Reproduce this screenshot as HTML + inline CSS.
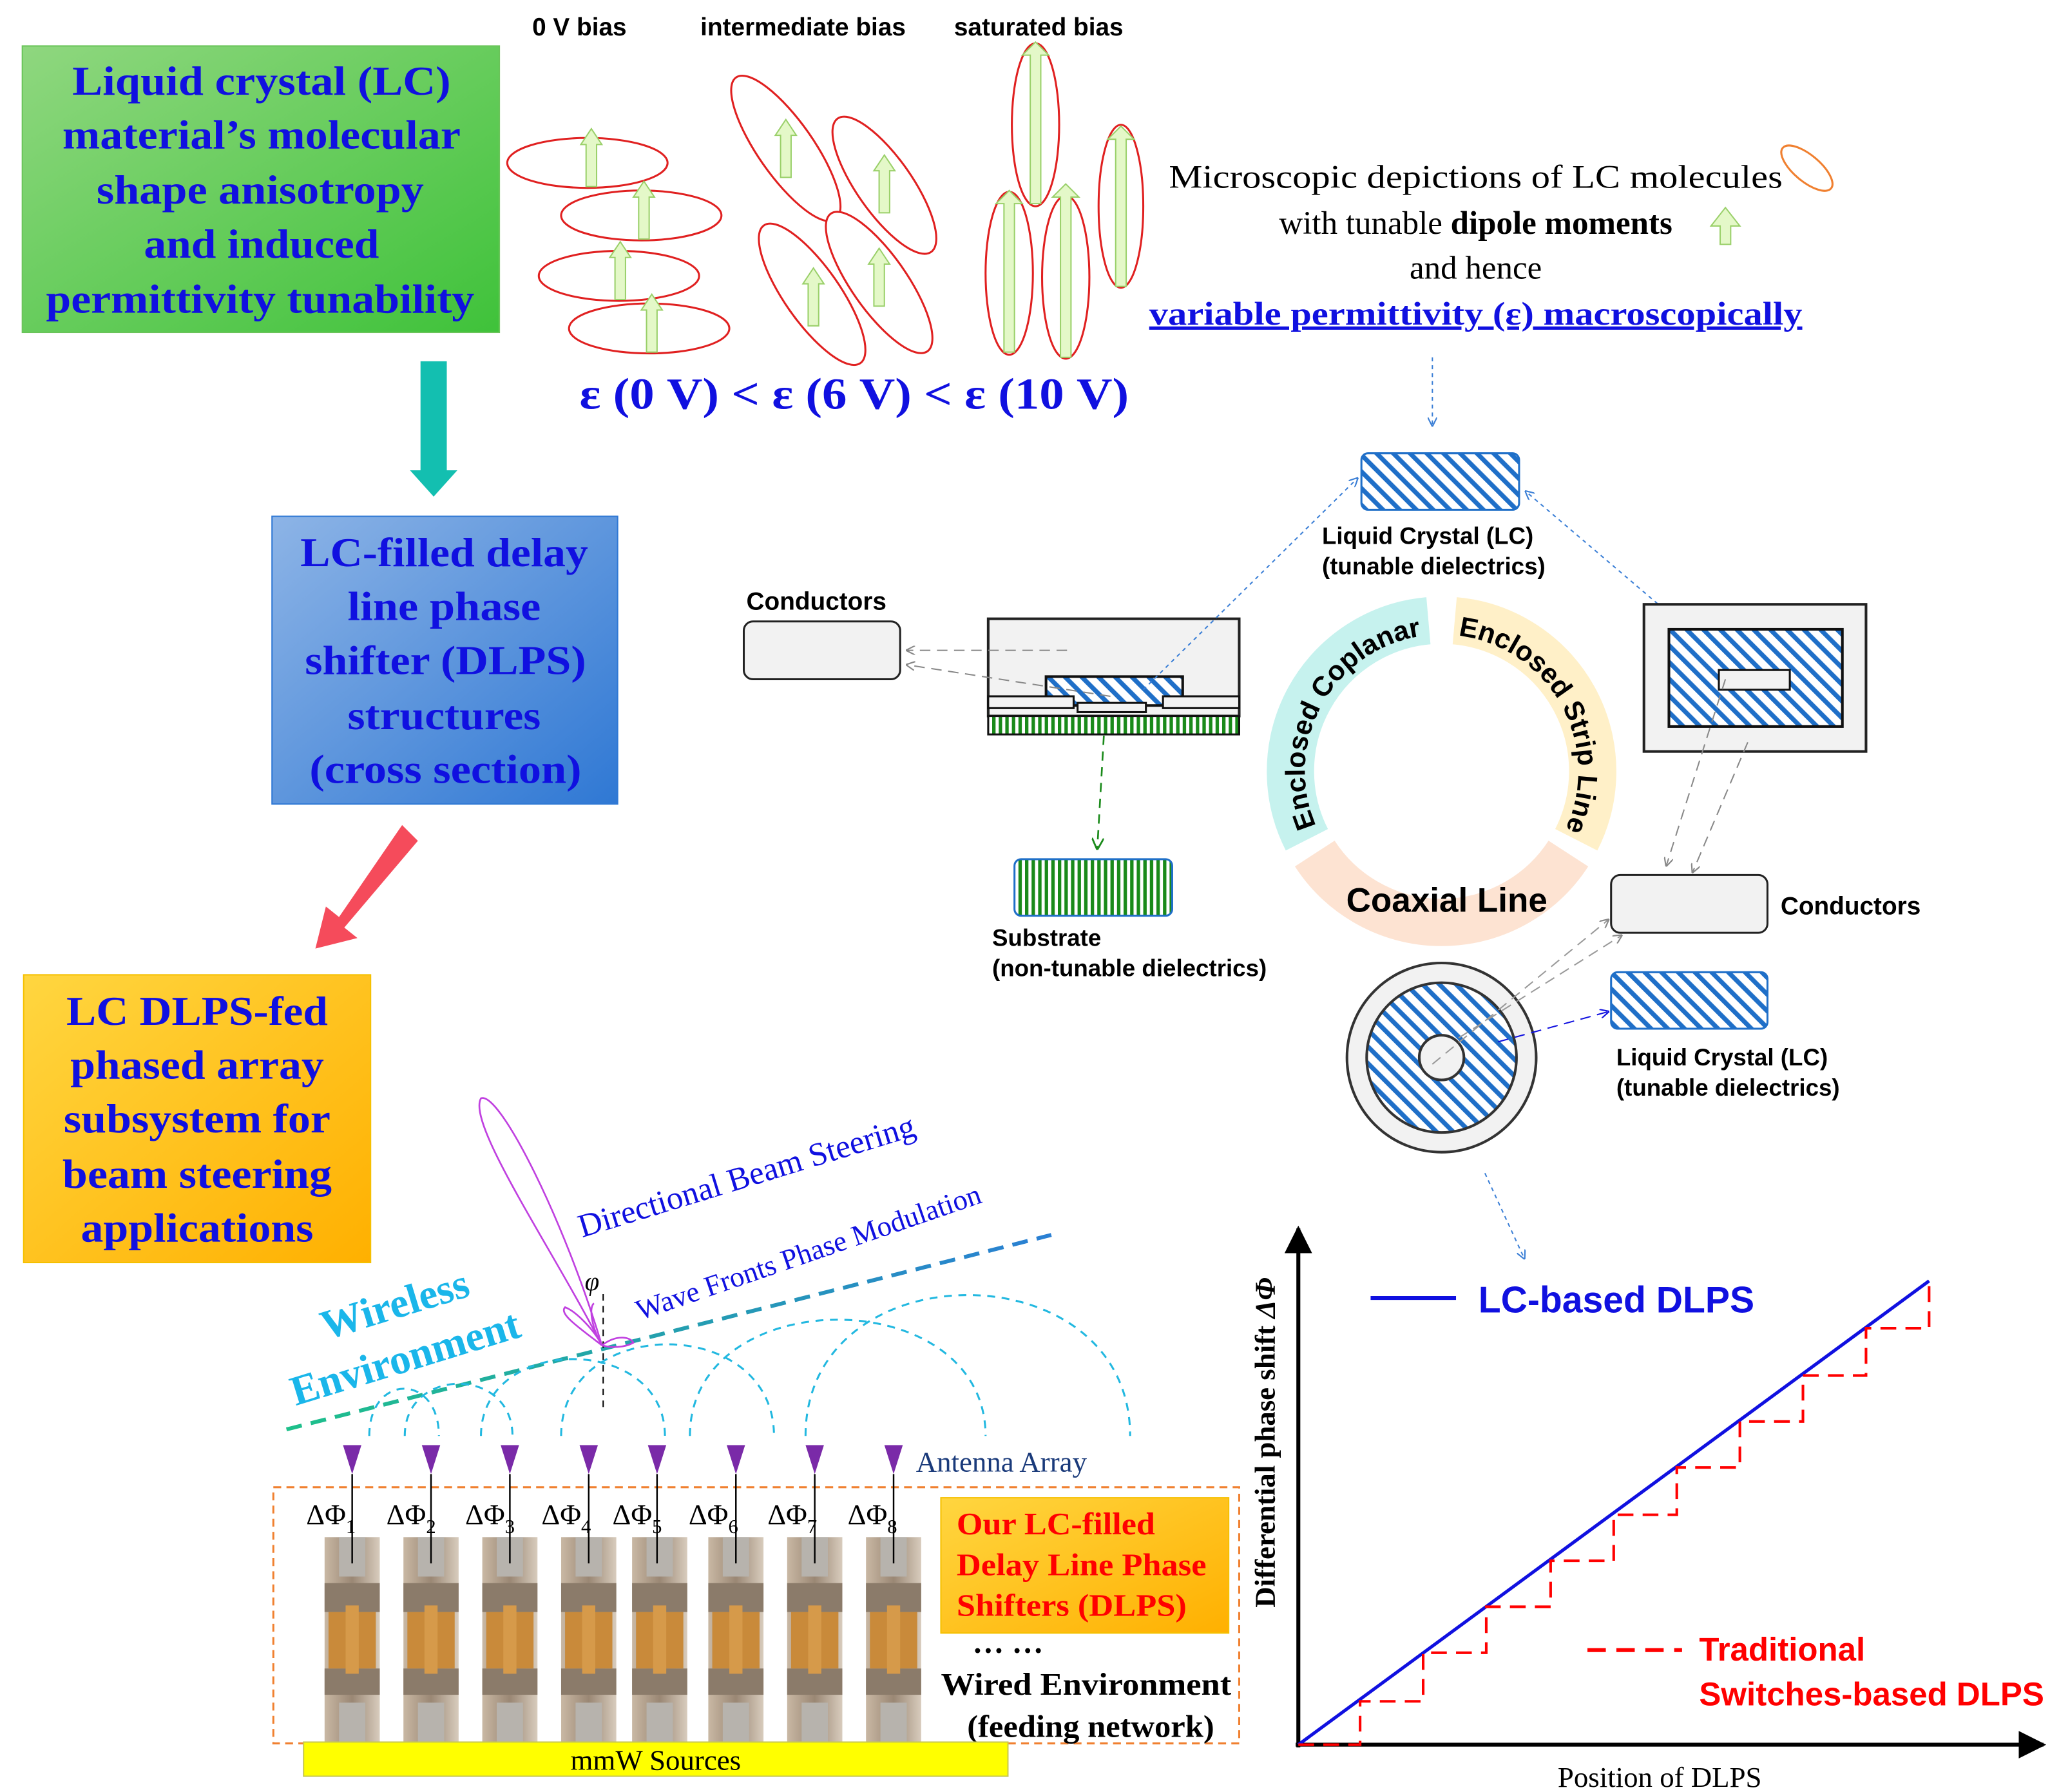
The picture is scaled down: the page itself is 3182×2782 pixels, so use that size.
<!DOCTYPE html>
<html><head><meta charset="utf-8"><style>
html,body{margin:0;padding:0;background:#fff}
svg{display:block}
.sb{font-family:"Liberation Serif",serif;font-weight:bold}
.s{font-family:"Liberation Serif",serif}
.a{font-family:"Liberation Sans",sans-serif;font-weight:bold}
</style></head><body>
<svg width="3182" height="2782" viewBox="0 0 1560 1364" preserveAspectRatio="none" xmlns="http://www.w3.org/2000/svg">
<defs>
<pattern id="h" patternUnits="userSpaceOnUse" width="9" height="9" patternTransform="rotate(-45)">
<rect width="9" height="9" fill="#fff"/><rect x="0" y="0" width="3.5" height="9" fill="#1f6fc8"/></pattern>
<pattern id="g" patternUnits="userSpaceOnUse" width="5" height="10"><rect width="5" height="10" fill="#fff"/><rect width="2.6" height="10" fill="#1a8a1a"/></pattern>
<linearGradient id="gg" x1="0" y1="0" x2="1" y2="1"><stop offset="0" stop-color="#8fd77f"/><stop offset="1" stop-color="#3fc23a"/></linearGradient>
<linearGradient id="bg" x1="0" y1="0" x2="1" y2="1"><stop offset="0" stop-color="#8db4e6"/><stop offset="1" stop-color="#2f78d4"/></linearGradient>
<linearGradient id="og" x1="0" y1="0" x2="1" y2="1"><stop offset="0" stop-color="#ffd640"/><stop offset="1" stop-color="#ffb000"/></linearGradient>
<linearGradient id="ph" x1="0" y1="0" x2="1" y2="0"><stop offset="0" stop-color="#c9b8a4"/><stop offset=".5" stop-color="#9a8774"/><stop offset="1" stop-color="#d8ccbd"/></linearGradient>
<linearGradient id="wl" x1="0" y1="0" x2="1" y2="0"><stop offset="0" stop-color="#1ec08a"/><stop offset="1" stop-color="#2a7fd4"/></linearGradient>
<marker id="ab" viewBox="0 0 10 10" refX="9" refY="5" markerWidth="7" markerHeight="7" orient="auto"><path d="M0,0L10,5L0,10" fill="none" stroke="#3b7fd6" stroke-width="1.5"/></marker>
<marker id="ag" viewBox="0 0 10 10" refX="9" refY="5" markerWidth="7" markerHeight="7" orient="auto"><path d="M0,0L10,5L0,10" fill="none" stroke="#888" stroke-width="1.5"/></marker>
<marker id="agr" viewBox="0 0 10 10" refX="9" refY="5" markerWidth="7" markerHeight="7" orient="auto"><path d="M0,0L10,5L0,10" fill="none" stroke="#1a8a1a" stroke-width="1.5"/></marker>
<marker id="abb" viewBox="0 0 10 10" refX="9" refY="5" markerWidth="7" markerHeight="7" orient="auto"><path d="M0,0L10,5L0,10" fill="none" stroke="#1010e0" stroke-width="1.5"/></marker>
<marker id="ak" viewBox="0 0 10 10" refX="9" refY="5" markerWidth="7" markerHeight="7" orient="auto"><path d="M0,0L10,5L0,10Z" fill="#000"/></marker>
<g id="ua"><path d="M-4,0V-32H-8L0,-44L8,-32H4V0Z" fill="#e4f8c8" stroke="#9ad06a" stroke-width="1"/></g>
<g id="ph1"><rect x="-21" y="0" width="42" height="156" fill="url(#ph)"/><rect x="-10" y="0" width="20" height="30" fill="#b7b3ad"/><rect x="-10" y="126" width="20" height="30" fill="#b7b3ad"/><rect x="-21" y="35" width="42" height="22" fill="#8b7b6a"/><rect x="-21" y="100" width="42" height="20" fill="#8b7b6a"/><rect x="-18" y="57" width="36" height="43" fill="#c98a3a"/><rect x="-5" y="52" width="10" height="52" fill="#d69a4a"/></g>
</defs>

<rect x="17" y="35" width="363" height="218" fill="url(#gg)" stroke="#6ac45a"/>
<g class="sb" fill="#1010e0" font-size="31" text-anchor="middle">
<text x="199" y="72" textLength="288" lengthAdjust="spacingAndGlyphs">Liquid crystal (LC)</text>
<text x="199" y="113" textLength="303" lengthAdjust="spacingAndGlyphs">material’s molecular</text>
<text x="198" y="155" textLength="249" lengthAdjust="spacingAndGlyphs">shape anisotropy</text>
<text x="199" y="196" textLength="179" lengthAdjust="spacingAndGlyphs">and induced</text>
<text x="198" y="238" textLength="326" lengthAdjust="spacingAndGlyphs">permittivity tunability</text>
</g>
<path d="M320,275H340V358H348L330,378L312,358H320Z" fill="#13bfb0"/>
<rect x="207" y="393" width="263" height="219" fill="url(#bg)" stroke="#2f78d4"/>
<g class="sb" fill="#1010e0" font-size="31" text-anchor="middle">
<text x="338" y="431" textLength="219" lengthAdjust="spacingAndGlyphs">LC-filled delay</text>
<text x="338" y="472" textLength="147" lengthAdjust="spacingAndGlyphs">line phase</text>
<text x="339" y="513" textLength="214" lengthAdjust="spacingAndGlyphs">shifter (DLPS)</text>
<text x="338" y="555" textLength="147" lengthAdjust="spacingAndGlyphs">structures</text>
<text x="339" y="596" textLength="207" lengthAdjust="spacingAndGlyphs">(cross section)</text>
</g>
<path d="M306,628L318,640L262,706L272,714L240,722L248,690L258,698Z" fill="#f54b5b"/>
<rect x="18" y="742" width="264" height="219" fill="url(#og)" stroke="#f5c000"/>
<g class="sb" fill="#1010e0" font-size="31" text-anchor="middle">
<text x="150" y="780" textLength="199" lengthAdjust="spacingAndGlyphs">LC DLPS-fed</text>
<text x="150" y="821" textLength="193" lengthAdjust="spacingAndGlyphs">phased array</text>
<text x="150" y="862" textLength="203" lengthAdjust="spacingAndGlyphs">subsystem for</text>
<text x="150" y="904" textLength="205" lengthAdjust="spacingAndGlyphs">beam steering</text>
<text x="150" y="945" textLength="177" lengthAdjust="spacingAndGlyphs">applications</text>
</g>

<g class="a" font-size="19" fill="#000">
<text x="405" y="27">0 V bias</text>
<text x="533" y="27">intermediate bias</text>
<text x="726" y="27">saturated bias</text>
</g>
<g fill="#fff" stroke="#e02020" stroke-width="1.5">
<ellipse cx="447" cy="124" rx="61" ry="19"/><ellipse cx="488" cy="164" rx="61" ry="19"/><ellipse cx="471" cy="210" rx="61" ry="19"/><ellipse cx="494" cy="250" rx="61" ry="19"/>
<ellipse cx="598" cy="113" rx="21" ry="66" transform="rotate(-35 598 113)"/>
<ellipse cx="673" cy="141" rx="21" ry="62" transform="rotate(-35 673 141)"/>
<ellipse cx="618" cy="224" rx="21" ry="64" transform="rotate(-35 618 224)"/>
<ellipse cx="669" cy="215" rx="21" ry="64" transform="rotate(-35 669 215)"/>
<ellipse cx="788" cy="95" rx="18" ry="62"/><ellipse cx="768" cy="208" rx="18" ry="62"/><ellipse cx="811" cy="211" rx="18" ry="62"/><ellipse cx="853" cy="157" rx="17" ry="62"/>
</g>
<use href="#ua" x="450" y="142"/><use href="#ua" x="490" y="182"/><use href="#ua" x="472" y="228"/><use href="#ua" x="496" y="268"/>
<use href="#ua" x="598" y="135"/><use href="#ua" x="673" y="162"/><use href="#ua" x="619" y="248"/><use href="#ua" x="669" y="233"/>
<path d="M784,155V42H778L788,32L798,42H792V155Z" fill="#e4f8c8" stroke="#9ad06a"/>
<path d="M764,268V155H758L768,145L778,155H772V268Z" fill="#e4f8c8" stroke="#9ad06a"/>
<path d="M807,272V150H801L811,140L821,150H815V272Z" fill="#e4f8c8" stroke="#9ad06a"/>
<path d="M849,218V106H843L853,96L863,106H857V218Z" fill="#e4f8c8" stroke="#9ad06a"/>
<text x="650" y="311" class="sb" font-size="34" fill="#1010e0" text-anchor="middle" textLength="418" lengthAdjust="spacingAndGlyphs">ε (0 V) &lt; ε (6 V) &lt; ε (10 V)</text>

<g class="s" font-size="25" fill="#000" text-anchor="middle">
<text x="1123" y="143" textLength="467" lengthAdjust="spacingAndGlyphs">Microscopic depictions of LC molecules</text>
<text x="1123" y="178">with tunable <tspan font-weight="bold">dipole moments</tspan></text>
<text x="1123" y="212">and hence</text>
<text x="1123" y="247" font-weight="bold" fill="#1010e0" text-decoration="underline" textLength="497" lengthAdjust="spacingAndGlyphs">variable permittivity (ε) macroscopically</text>
</g>
<ellipse cx="1375" cy="128" rx="24" ry="10" transform="rotate(40 1375 128)" fill="none" stroke="#f08030" stroke-width="1.5"/>
<path d="M1309,186V172H1302L1313,158L1324,172H1317V186Z" fill="#e4f8c8" stroke="#9ad06a"/>
<line x1="1090" y1="272" x2="1090" y2="324" stroke="#3b7fd6" stroke-dasharray="3,3" marker-end="url(#ab)"/>

<rect x="1036" y="345" width="120" height="43" rx="5" fill="url(#h)" stroke="#1f6fc8" stroke-width="1.5"/>
<g class="a" font-size="18" fill="#000"><text x="1006" y="414">Liquid Crystal (LC)</text><text x="1006" y="437">(tunable dielectrics)</text></g>
<text x="568" y="464" class="a" font-size="19">Conductors</text>
<rect x="566" y="473" width="119" height="44" rx="7" fill="#f2f2f2" stroke="#222" stroke-width="1.5"/>
<rect x="752" y="471" width="191" height="74" fill="#f2f2f2" stroke="#222" stroke-width="2"/>
<rect x="796" y="515" width="104" height="22" fill="url(#h)" stroke="#111" stroke-width="2"/>
<rect x="752" y="530" width="65" height="9" fill="#f2f2f2" stroke="#111" stroke-width="1.5"/>
<rect x="820" y="535" width="52" height="7" fill="#f2f2f2" stroke="#111" stroke-width="1.5"/>
<rect x="885" y="530" width="58" height="9" fill="#f2f2f2" stroke="#111" stroke-width="1.5"/>
<rect x="752" y="545" width="191" height="14" fill="url(#g)" stroke="#111" stroke-width="1.5"/>
<line x1="812" y1="495" x2="690" y2="495" stroke="#888" stroke-dasharray="8,5" marker-end="url(#ag)"/>
<line x1="845" y1="530" x2="690" y2="506" stroke="#888" stroke-dasharray="8,5" marker-end="url(#ag)"/>
<line x1="870" y1="525" x2="1033" y2="364" stroke="#3b7fd6" stroke-dasharray="3,3" marker-end="url(#ab)"/>
<line x1="1330" y1="518" x2="1161" y2="374" stroke="#3b7fd6" stroke-dasharray="3,3" marker-end="url(#ab)"/>
<line x1="840" y1="560" x2="835" y2="646" stroke="#1a8a1a" stroke-dasharray="7,5" stroke-width="1.3" marker-end="url(#agr)"/>
<rect x="772" y="654" width="120" height="43" rx="5" fill="url(#g)" stroke="#1f6fc8" stroke-width="1.5"/>
<g class="a" font-size="18" fill="#000"><text x="755" y="720">Substrate</text><text x="755" y="743">(non-tunable dielectrics)</text></g>

<path d="M1087,472.5A115,115 0 0 0 994.5,639.2" fill="none" stroke="#c6f2ee" stroke-width="36"/>
<path d="M1107,472.5A115,115 0 0 1 1199.5,639.2" fill="none" stroke="#fff0c8" stroke-width="36"/>
<path d="M1000.5,649.7A115,115 0 0 0 1193.5,649.7" fill="none" stroke="#fde3d2" stroke-width="36"/>
<path id="p1" d="M1004.3,634.2A104,104 0 0 1 1087.9,483.4" fill="none"/>
<path id="p2" d="M1106.1,483.4A104,104 0 0 1 1189.7,634.2" fill="none"/>
<g class="a" font-size="21" fill="#000">
<text><textPath href="#p1" startOffset="50%" text-anchor="middle">Enclosed Coplanar</textPath></text>
<text><textPath href="#p2" startOffset="50%" text-anchor="middle">Enclosed Strip Line</textPath></text>
<text x="1101" y="694" text-anchor="middle" font-size="26">Coaxial Line</text>
</g>
<rect x="1251" y="460" width="169" height="112" fill="#f2f2f2" stroke="#222" stroke-width="2"/>
<rect x="1270" y="479" width="132" height="74" fill="url(#h)" stroke="#111" stroke-width="2"/>
<rect x="1308" y="510" width="54" height="15" fill="#f2f2f2" stroke="#111" stroke-width="1.5"/>
<line x1="1313" y1="517" x2="1268" y2="659" stroke="#888" stroke-dasharray="8,5" marker-end="url(#ag)"/>
<line x1="1330" y1="565" x2="1288" y2="664" stroke="#888" stroke-dasharray="8,5" marker-end="url(#ag)"/>
<rect x="1226" y="666" width="119" height="44" rx="7" fill="#f2f2f2" stroke="#222" stroke-width="1.5"/>
<text x="1355" y="696" class="a" font-size="19">Conductors</text>
<circle cx="1097" cy="805" r="72" fill="#f2f2f2" stroke="#333" stroke-width="2"/>
<circle cx="1097" cy="805" r="57" fill="url(#h)" stroke="#333" stroke-width="2"/>
<circle cx="1097" cy="805" r="17" fill="#f2f2f2" stroke="#333" stroke-width="2"/>
<line x1="1090" y1="810" x2="1224" y2="700" stroke="#999" stroke-dasharray="8,5" marker-end="url(#ag)"/>
<line x1="1110" y1="790" x2="1234" y2="712" stroke="#999" stroke-dasharray="8,5" marker-end="url(#ag)"/>
<line x1="1140" y1="793" x2="1224" y2="770" stroke="#1010e0" stroke-dasharray="8,5" marker-end="url(#abb)"/>
<rect x="1226" y="740" width="119" height="43" rx="5" fill="url(#h)" stroke="#1f6fc8" stroke-width="1.5"/>
<g class="a" font-size="18" fill="#000"><text x="1230" y="811">Liquid Crystal (LC)</text><text x="1230" y="834">(tunable dielectrics)</text></g>
<line x1="1130" y1="893" x2="1160" y2="958" stroke="#3b7fd6" stroke-dasharray="3,3" marker-end="url(#ab)"/>

<line x1="988" y1="1330" x2="988" y2="935" stroke="#000" stroke-width="3" marker-end="url(#ak)"/>
<line x1="986" y1="1328" x2="1555" y2="1328" stroke="#000" stroke-width="3" marker-end="url(#ak)"/>
<text transform="translate(970,1098) rotate(-90)" class="sb" font-size="22" text-anchor="middle">Differential phase shift <tspan font-style="italic">ΔΦ</tspan></text>
<text x="1263" y="1360" class="s" font-size="22" text-anchor="middle">Position of DLPS</text>
<line x1="988" y1="1328" x2="1468" y2="975" stroke="#1010e0" stroke-width="2.5"/>
<path d="M988,1328H1035V1295H1083V1258H1131V1223H1180V1188H1228V1153H1276V1117H1324V1082H1372V1047H1420V1011H1468V975" fill="none" stroke="#ff0000" stroke-width="2" stroke-dasharray="12,7"/>
<line x1="1043" y1="988" x2="1108" y2="988" stroke="#1010e0" stroke-width="3"/>
<text x="1125" y="999" class="a" font-size="28" fill="#1010e0">LC-based DLPS</text>
<line x1="1208" y1="1256" x2="1280" y2="1256" stroke="#ff0000" stroke-width="3" stroke-dasharray="14,8"/>
<g class="a" font-size="25" fill="#ff0000"><text x="1293" y="1264">Traditional</text><text x="1293" y="1298">Switches-based DLPS</text></g>

<line x1="218" y1="1088" x2="800" y2="940" stroke="url(#wl)" stroke-width="3" stroke-dasharray="12,7"/>
<g fill="none" stroke="#22b8e0" stroke-width="1.5" stroke-dasharray="6,5">
<path d="M281,1093C281,1045 334,1045 334,1093"/>
<path d="M308,1093C308,1040 390,1040 390,1093"/>
<path d="M366,1093C366,1015 506,1015 506,1093"/>
<path d="M427,1093C427,1000 589,1000 589,1093"/>
<path d="M525,1093C525,975 750,975 750,1093"/>
<path d="M613,1093C613,950 860,950 860,1093"/>
</g>
<line x1="459" y1="985" x2="459" y2="1072" stroke="#000" stroke-dasharray="5,4"/>
<path d="M458,1024C420,950 355,855 366,836C380,830 430,930 458,1024Z" fill="none" stroke="#c040e0" stroke-width="1.3"/>
<path d="M458,1024C440,1010 425,1000 430,995C438,998 452,1012 458,1024M458,1024C470,1015 480,1018 482,1022C475,1026 465,1026 458,1024M458,1024C450,1010 448,995 452,992" fill="none" stroke="#c040e0" stroke-width="1.3"/>
<text x="445" y="982" class="s" font-style="italic" font-size="20">φ</text>
<g class="s" fill="#1010e0" font-size="25">
<text transform="translate(443,942) rotate(-17)">Directional Beam Steering</text>
<text transform="translate(487,1005) rotate(-19)" font-size="22">Wave Fronts Phase Modulation</text>
</g>
<g class="sb" fill="#1ab6ea" font-size="32">
<text transform="translate(248,1020) rotate(-17)">Wireless</text>
<text transform="translate(225,1070) rotate(-17)">Environment</text>
</g>
<g fill="#7a2aa8">
<path d="M261,1100H275L268,1122Z"/><path d="M321,1100H335L328,1122Z"/><path d="M381,1100H395L388,1122Z"/><path d="M441,1100H455L448,1122Z"/>
<path d="M493,1100H507L500,1122Z"/><path d="M553,1100H567L560,1122Z"/><path d="M613,1100H627L620,1122Z"/><path d="M673,1100H687L680,1122Z"/>
</g>
<text x="697" y="1120" class="s" font-size="22" fill="#1a3a7a">Antenna Array</text>
<rect x="208" y="1132" width="735" height="195" fill="none" stroke="#f08030" stroke-width="1.5" stroke-dasharray="6,4"/>
<use href="#ph1" x="268" y="1170"/><use href="#ph1" x="328" y="1170"/><use href="#ph1" x="388" y="1170"/><use href="#ph1" x="448" y="1170"/>
<use href="#ph1" x="502" y="1170"/><use href="#ph1" x="560" y="1170"/><use href="#ph1" x="620" y="1170"/><use href="#ph1" x="680" y="1170"/>
<g stroke="#000" stroke-width="1.2">
<line x1="268" y1="1122" x2="268" y2="1190"/><line x1="328" y1="1122" x2="328" y2="1190"/><line x1="388" y1="1122" x2="388" y2="1190"/><line x1="448" y1="1122" x2="448" y2="1190"/>
<line x1="500" y1="1122" x2="500" y2="1190"/><line x1="560" y1="1122" x2="560" y2="1190"/><line x1="620" y1="1122" x2="620" y2="1190"/><line x1="680" y1="1122" x2="680" y2="1190"/>
</g>
<g class="s" font-size="22" fill="#000">
<text x="233" y="1160">ΔΦ<tspan font-size="15" dy="7">1</tspan></text>
<text x="294" y="1160">ΔΦ<tspan font-size="15" dy="7">2</tspan></text>
<text x="354" y="1160">ΔΦ<tspan font-size="15" dy="7">3</tspan></text>
<text x="412" y="1160">ΔΦ<tspan font-size="15" dy="7">4</tspan></text>
<text x="466" y="1160">ΔΦ<tspan font-size="15" dy="7">5</tspan></text>
<text x="524" y="1160">ΔΦ<tspan font-size="15" dy="7">6</tspan></text>
<text x="584" y="1160">ΔΦ<tspan font-size="15" dy="7">7</tspan></text>
<text x="645" y="1160">ΔΦ<tspan font-size="15" dy="7">8</tspan></text>
</g>
<rect x="716" y="1140" width="219" height="103" fill="url(#og)" stroke="#f5c000"/>
<g class="sb" font-size="24" fill="#ff0000">
<text x="728" y="1168" textLength="151" lengthAdjust="spacingAndGlyphs">Our LC-filled</text>
<text x="728" y="1199" textLength="190" lengthAdjust="spacingAndGlyphs">Delay Line Phase</text>
<text x="728" y="1230" textLength="175" lengthAdjust="spacingAndGlyphs">Shifters (DLPS)</text>
</g>
<g class="sb" font-size="24" fill="#000">
<text x="740" y="1258">…   …</text>
<text x="716" y="1290" textLength="221" lengthAdjust="spacingAndGlyphs">Wired Environment</text>
<text x="736" y="1322" textLength="188" lengthAdjust="spacingAndGlyphs">(feeding network)</text>
</g>
<rect x="231" y="1326" width="536" height="26" fill="#ffff00" stroke="#c8c850"/>
<text x="499" y="1347" class="s" font-size="22" text-anchor="middle">mmW Sources</text>
</svg>
</body></html>
